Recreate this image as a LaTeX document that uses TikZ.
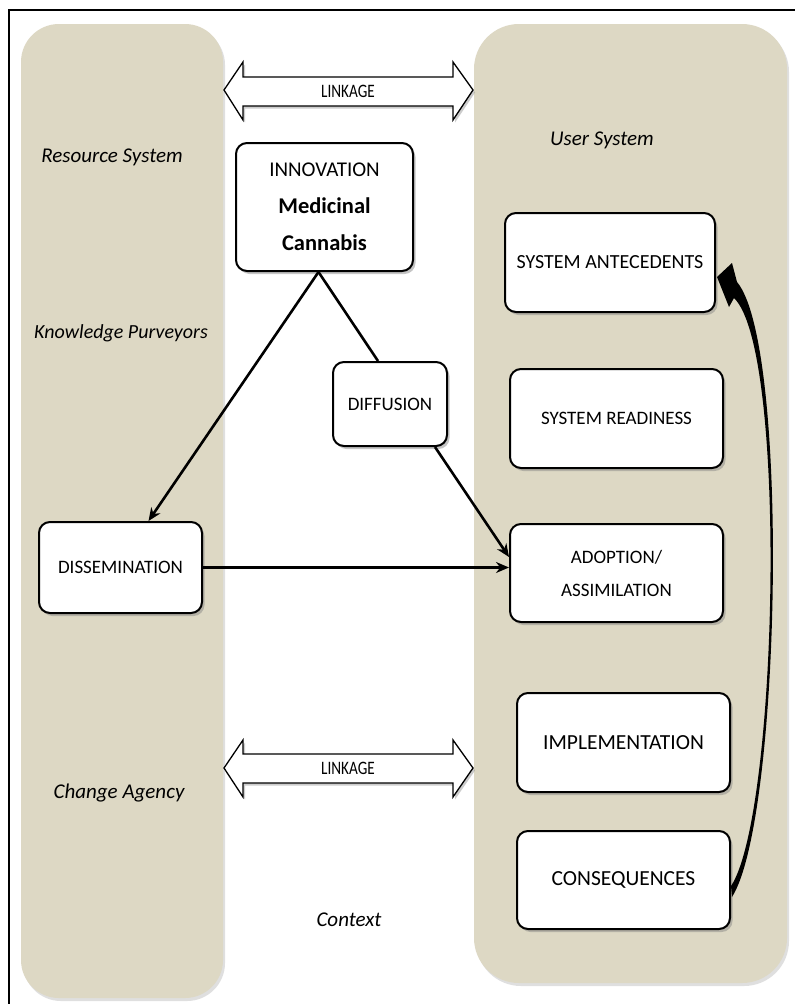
\documentclass[tikz,border=0pt]{standalone}
\usepackage{fontspec}
\setmainfont{Carlito}
\usetikzlibrary{arrows.meta,shadows,calc}
\definecolor{panel}{RGB}{221,216,196}
\begin{document}
\begin{tikzpicture}[x=1pt,y=-1pt,
  box/.style={draw, line width=2pt, fill=white, rounded corners=11pt, align=center,
    font=\fontsize{19}{33}\selectfont, inner sep=0pt,
    drop shadow={shadow xshift=2.5pt, shadow yshift=-3pt, opacity=0.45}},
  lbl/.style={font=\fontsize{21}{25}\selectfont\itshape},
  linktext/.style={font=\fontsize{19}{22}\selectfont},
  conn/.style={line width=2.6pt, -{Stealth[length=13pt,width=11pt]}},
  plainconn/.style={line width=2.6pt},
  panelbox/.style={fill=panel, drop shadow={shadow xshift=2pt, shadow yshift=-3pt, opacity=0.25}},
  linkarrow/.style={draw, fill=white, line width=1.3pt, line join=miter,
    drop shadow={shadow xshift=2pt, shadow yshift=-2.5pt, opacity=0.4}}
]
\useasboundingbox (0,0) rectangle (795,1004);
\fill[white] (0,0) rectangle (795,1004);
% frame
\draw[line width=2pt] (796,10) -- (9,10) -- (9,1005);
% panels
\path[panelbox, rounded corners=38pt] (21,24) rectangle (223,998);
\path[panelbox, rounded corners=45pt] (474,24) rectangle (787,983);
% linkage arrows
\draw[linkarrow] (224,90) -- (243,62) -- (243,77) -- (453,77) -- (453,62) -- (473,90)
  -- (453,120) -- (453,106) -- (243,106) -- (243,120) -- cycle;
\node[linktext] (link1) at (348,91) {\scalebox{0.8}[1]{LINKAGE}};
\draw[linkarrow] (224,768) -- (243,740) -- (243,754) -- (453,754) -- (453,740) -- (473,768)
  -- (453,797) -- (453,783) -- (243,783) -- (243,797) -- cycle;
\node[linktext] (link2) at (348,768) {\scalebox{0.8}[1]{LINKAGE}};
% labels
\node[lbl] (rs) at (112,157) {Resource System};
\node[lbl, font=\fontsize{20}{24}\selectfont\itshape] (kp) at (121,333) {Knowledge Purveyors};
\node[lbl] (ca) at (119,793) {Change Agency};
\node[lbl] (us) at (602,140) {User System};
\node[lbl] (ctx) at (349,920) {Context};
% boxes
\node[box, minimum width=177pt, minimum height=128pt, font=\fontsize{21}{37}\selectfont] (inno) at (324.5,207)
  {INNOVATION\\\fontsize{22.5}{37}\selectfont\textbf{Medicinal}\\\fontsize{22.5}{37}\selectfont\textbf{Cannabis}};
\node[box, minimum width=210pt, minimum height=99pt, font=\fontsize{20}{33}\selectfont] (ant) at (610,262.5) {SYSTEM ANTECEDENTS};
\node[box, minimum width=213pt, minimum height=99pt] (ready) at (616.5,418.5) {SYSTEM READINESS};
\node[box, minimum width=213pt, minimum height=98pt] (adopt) at (616.5,573) {ADOPTION/\\ASSIMILATION};
\node[box, minimum width=213pt, minimum height=99pt, font=\fontsize{21.5}{33}\selectfont] (impl) at (623.5,742.5) {IMPLEMENTATION};
\node[box, minimum width=213pt, minimum height=98pt, font=\fontsize{21.5}{33}\selectfont] (cons) at (623.5,880) {CONSEQUENCES};
\node[box, minimum width=114pt, minimum height=84pt] (diff) at (390,404) {DIFFUSION};
\node[box, minimum width=163pt, minimum height=91pt] (diss) at (120.5,567.5) {DISSEMINATION};
% connectors
\coordinate (apex) at ($(inno.south)+(-6,0)$);
\draw[conn] (apex) -- ($(diss.north)+(28,0)$);
\draw[plainconn] (apex) -- ($(diff.north)+(-12,0)$);
\draw[conn] ($(diff.south)+(45,0)$) -- ($(adopt.west)+(0,-16)$);
\draw[conn] (diss.east) -- (adopt.west |- diss.east);
% curved feedback arrow
\fill ($(ant.east)+(1,14.5)$) -- ($(ant.east)+(16,0.5)$) -- ($(ant.east)+(21,19.5)$)
  .. controls (790,345) and (781,820) .. ($(cons.east)+(1,17)$)
  -- ($(cons.east)+(0,6)$)
  .. controls (778,815) and (788,350) .. ($(ant.east)+(18,35.5)$)
  -- ($(ant.east)+(13,44.5)$) -- cycle;
\end{tikzpicture}
\end{document}
